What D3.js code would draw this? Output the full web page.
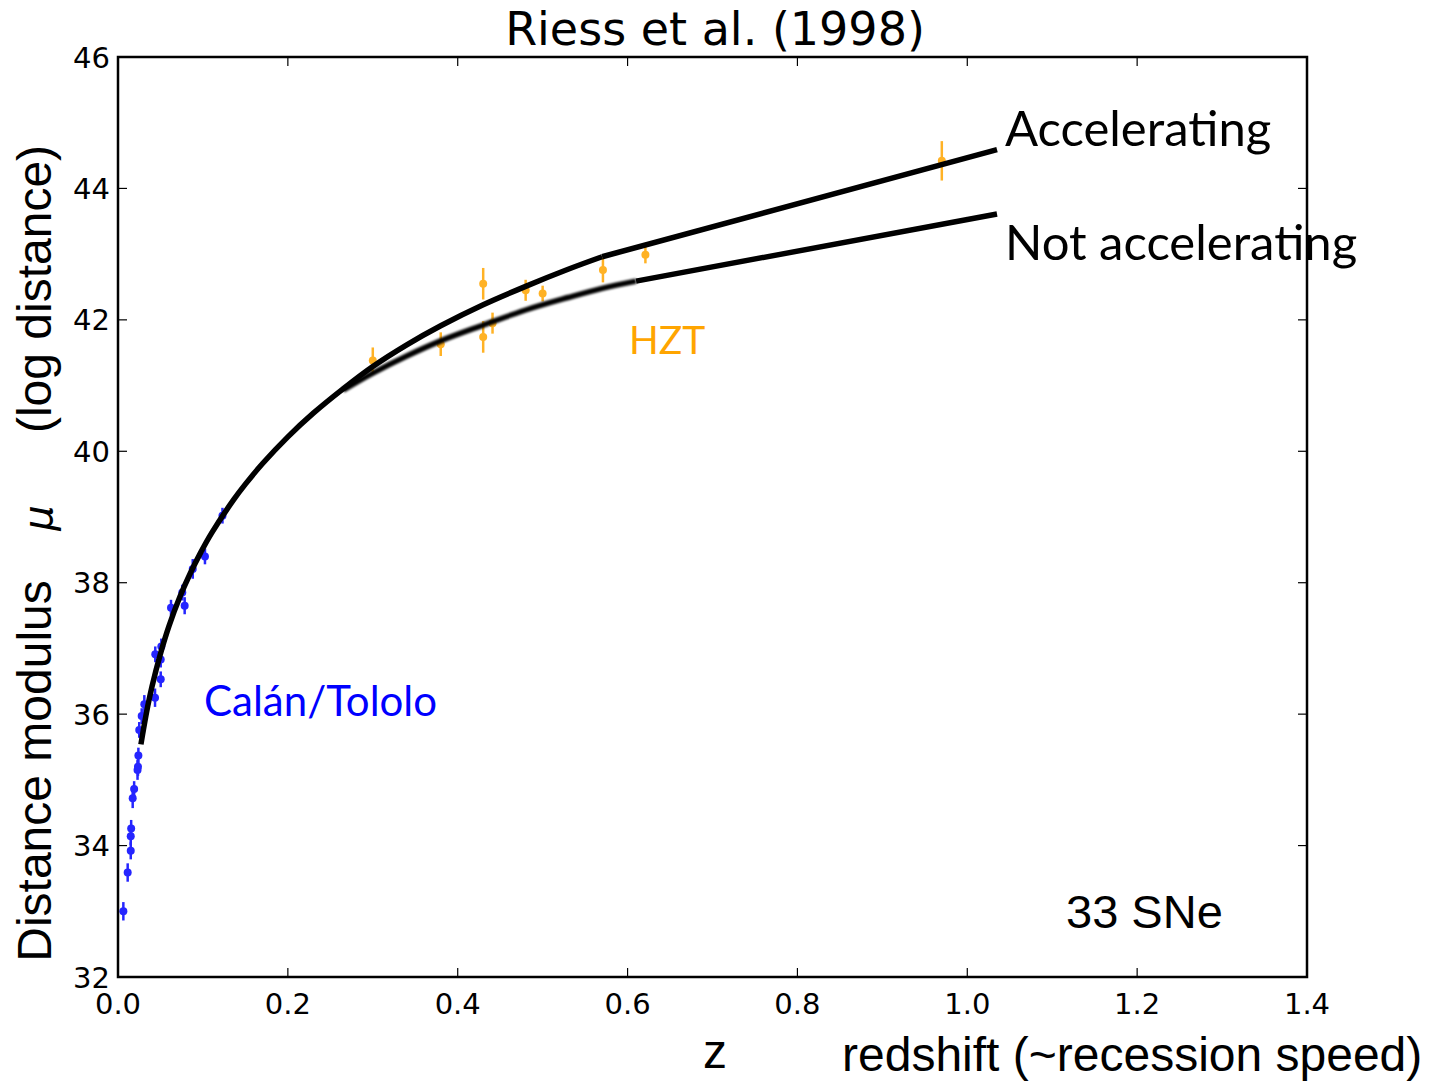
<!DOCTYPE html>
<html>
<head>
<meta charset="utf-8">
<script src="https://cdn.jsdelivr.net/npm/d3@7"></script>
<style>
  html, body { margin: 0; padding: 0; background: #fff; }
  svg { display: block; }
</style>
</head>
<body>
<svg id="chart" width="1429" height="1084"></svg>
<script>
// Hubble diagram of type Ia supernovae: distance modulus vs redshift.

// Calán/Tololo nearby sample
const ctZ   = [0.0063, 0.0114, 0.0150, 0.0150, 0.0155, 0.0173, 0.0190, 0.0230, 0.0235, 0.0240, 0.0250, 0.0279,
               0.0310, 0.0436, 0.0503, 0.0503, 0.0439, 0.0510, 0.0624, 0.0785, 0.0757, 0.0880, 0.1024, 0.1230];
const ctMu  = [33.00, 33.59, 33.92, 34.14, 34.26, 34.72, 34.86, 35.15, 35.20, 35.37, 35.76, 35.97,
               36.15, 36.25, 36.53, 36.83, 36.91, 37.03, 37.62, 37.65, 37.85, 38.21, 38.40, 39.02];
const ctErr = [0.14, 0.14, 0.13, 0.13, 0.13, 0.15, 0.12, 0.15, 0.14, 0.12, 0.12, 0.12,
               0.14, 0.14, 0.12, 0.12, 0.12, 0.12, 0.12, 0.13, 0.12, 0.15, 0.12, 0.12];

// High-z Supernova Team sample
const hztZ   = [0.300, 0.380, 0.430, 0.430, 0.441, 0.480, 0.500, 0.571, 0.621, 0.970];
const hztMu  = [41.38, 41.63, 42.55, 41.74, 41.95, 42.45, 42.40, 42.76, 42.99, 44.42];
const hztErr = [0.20, 0.18, 0.24, 0.24, 0.16, 0.16, 0.12, 0.19, 0.13, 0.30];

// Model curves: shared low-z part, then the two branches
const baseZ  = [0.027, 0.030, 0.035, 0.040, 0.050, 0.060, 0.073, 0.085, 0.097, 0.110, 0.136, 0.150, 0.170, 0.200, 0.230, 0.265];
const baseMu = [35.54, 35.77, 36.12, 36.42, 36.92, 37.34, 37.79, 38.14, 38.45, 38.75, 39.26, 39.50, 39.81, 40.22, 40.58, 40.95];

const accelZ  = [0.300, 0.340, 0.380, 0.430, 0.480, 0.530, 0.570];
const accelMu = [41.29, 41.62, 41.91, 42.23, 42.51, 42.77, 42.96];
const accelTailZ  = [0.570, 1.035];
const accelTailMu = [42.96, 44.59];

const decelZ  = [0.265, 0.300, 0.340, 0.380, 0.430, 0.480, 0.530, 0.570, 0.610];
const decelMu = [40.93, 41.19, 41.45, 41.68, 41.92, 42.15, 42.34, 42.48, 42.59];
const decelTailZ  = [0.610, 1.035];
const decelTailMu = [42.59, 43.61];

// Axis ticks
const xTicks = [0.0, 0.2, 0.4, 0.6, 0.8, 1.0, 1.2, 1.4];
const yTicks = [32, 34, 36, 38, 40, 42, 44, 46];

const svg = d3.select("#chart");
const plot = { left: 118, right: 1307, top: 57, bottom: 977 };

const x = d3.scaleLinear().domain([0, 1.4]).range([plot.left, plot.right]);
const y = d3.scaleLinear().domain([32, 46]).range([plot.bottom, plot.top]);

const defs = svg.append("defs");
defs.append("clipPath").attr("id", "plotClip")
  .append("rect")
  .attr("x", plot.left).attr("y", plot.top)
  .attr("width", plot.right - plot.left).attr("height", plot.bottom - plot.top);
defs.append("filter").attr("id", "soft")
  .attr("x", "-5%").attr("y", "-20%").attr("width", "110%").attr("height", "140%")
  .append("feGaussianBlur").attr("stdDeviation", 1.0);

const g = svg.append("g").attr("clip-path", "url(#plotClip)");

// data points with error bars
function drawSet(zs, mus, errs, color, opacity) {
  const pts = zs.map((z, i) => ({ z, mu: mus[i], e: errs[i] }));
  const grp = g.append("g").attr("opacity", opacity);
  grp.selectAll("line.err").data(pts).enter().append("line")
    .attr("x1", d => x(d.z)).attr("x2", d => x(d.z))
    .attr("y1", d => y(d.mu - d.e)).attr("y2", d => y(d.mu + d.e))
    .attr("stroke", color).attr("stroke-width", 2.5);
  grp.selectAll("circle").data(pts).enter().append("circle")
    .attr("cx", d => x(d.z)).attr("cy", d => y(d.mu)).attr("r", 4)
    .attr("fill", color);
}
drawSet(ctZ, ctMu, ctErr, "#0000ff", 0.85);
drawSet(hztZ, hztMu, hztErr, "#ffa500", 0.85);

// model curves
const smooth = d3.line().x(d => x(d[0])).y(d => y(d[1])).curve(d3.curveCatmullRom.alpha(0.5));
const pair = (zs, mus) => zs.map((z, i) => [z, mus[i]]);
const lw = 5.5;

// not accelerating: soft-edged middle section, then straight tail
g.append("path").datum(pair(decelZ, decelMu)).attr("d", smooth)
  .attr("fill", "none").attr("stroke", "#000").attr("stroke-width", lw)
  .attr("filter", "url(#soft)");
g.append("path").datum(pair(decelTailZ, decelTailMu)).attr("d", smooth)
  .attr("fill", "none").attr("stroke", "#000").attr("stroke-width", lw);

// shared low-z curve continuing into the accelerating branch
g.append("path").datum(pair(baseZ.concat(accelZ), baseMu.concat(accelMu))).attr("d", smooth)
  .attr("fill", "none").attr("stroke", "#000").attr("stroke-width", lw);
g.append("path").datum(pair(accelTailZ, accelTailMu)).attr("d", smooth)
  .attr("fill", "none").attr("stroke", "#000").attr("stroke-width", lw);

// frame
svg.append("rect")
  .attr("x", plot.left).attr("y", plot.top)
  .attr("width", plot.right - plot.left).attr("height", plot.bottom - plot.top)
  .attr("fill", "none").attr("stroke", "#000").attr("stroke-width", 2.5);

// inward ticks on all four sides
const tickLen = 9;
const tk = svg.append("g").attr("stroke", "#000").attr("stroke-width", 1.2);
xTicks.forEach(t => {
  tk.append("line").attr("x1", x(t)).attr("x2", x(t)).attr("y1", plot.bottom).attr("y2", plot.bottom - tickLen);
  tk.append("line").attr("x1", x(t)).attr("x2", x(t)).attr("y1", plot.top).attr("y2", plot.top + tickLen);
});
yTicks.forEach(t => {
  tk.append("line").attr("x1", plot.left).attr("x2", plot.left + tickLen).attr("y1", y(t)).attr("y2", y(t));
  tk.append("line").attr("x1", plot.right).attr("x2", plot.right - tickLen).attr("y1", y(t)).attr("y2", y(t));
});

// tick labels
const tickFont = "'DejaVu Sans', sans-serif";
svg.append("g").selectAll("text").data(xTicks).enter().append("text")
  .attr("x", d => x(d)).attr("y", plot.bottom + 37)
  .attr("text-anchor", "middle").attr("font-family", tickFont).attr("font-size", 29)
  .text(d => d3.format(".1f")(d));
svg.append("g").selectAll("text").data(yTicks).enter().append("text")
  .attr("x", plot.left - 8).attr("y", d => y(d) + 10.5)
  .attr("text-anchor", "end").attr("font-family", tickFont).attr("font-size", 29)
  .text(d => d);

// title
svg.append("text").attr("x", 715).attr("y", 45).attr("text-anchor", "middle")
  .attr("font-family", tickFont).attr("font-size", 46).text("Riess et al. (1998)");

// axis titles
const sans = "'Liberation Sans', Arial, sans-serif";
svg.append("text").attr("transform", "translate(51,771) rotate(-90)")
  .attr("text-anchor", "middle").attr("font-family", sans).attr("font-size", 48)
  .text("Distance modulus");
svg.append("text").attr("transform", "translate(52,518) rotate(-90)")
  .attr("text-anchor", "middle").attr("font-family", tickFont)
  .attr("font-style", "italic").attr("font-size", 40).text("μ");
svg.append("text").attr("transform", "translate(51,289) rotate(-90)")
  .attr("text-anchor", "middle").attr("font-family", sans).attr("font-size", 48)
  .text("(log distance)");
svg.append("text").attr("x", 715).attr("y", 1068).attr("text-anchor", "middle")
  .attr("font-family", sans).attr("font-size", 48).text("z");
svg.append("text").attr("x", 842).attr("y", 1071).attr("text-anchor", "start")
  .attr("font-family", sans).attr("font-size", 48).text("redshift (~recession speed)");

// annotations
const anno = "Lato, 'Noto Sans', sans-serif";
svg.append("text").attr("x", 1005).attr("y", 146).attr("font-family", anno)
  .attr("font-size", 49).text("Accelerating");
svg.append("text").attr("x", 1005).attr("y", 260).attr("font-family", anno)
  .attr("font-size", 49).text("Not accelerating");
svg.append("text").attr("x", 629).attr("y", 354).attr("font-family", anno)
  .attr("font-size", 39).attr("fill", "#ffa500").text("HZT");
svg.append("text").attr("x", 204).attr("y", 716).attr("font-family", anno)
  .attr("font-size", 42).attr("fill", "#0000ff").text("Calán/Tololo");
svg.append("text").attr("x", 1066).attr("y", 928).attr("font-family", sans)
  .attr("font-size", 47).text("33 SNe");
</script>
</body>
</html>
